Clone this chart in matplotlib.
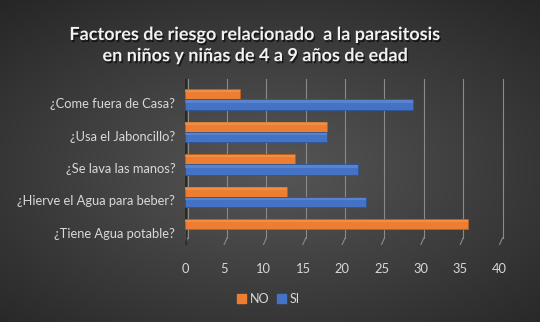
import numpy as np
import matplotlib.pyplot as plt
import matplotlib.patheffects as pe
from matplotlib.patches import Patch

# data
preguntas = ["¿Tiene Agua potable?", "¿Hierve el Agua para beber?",
             "¿Se lava las manos?", "¿Usa el Jaboncillo?", "¿Come fuera de Casa?"]
no_vals = [36, 13, 14, 18, 7]
si_vals = [0, 23, 22, 18, 29]
ticks = [0, 5, 10, 15, 20, 25, 30, 35, 40]

orange = "#ED7D31"
blue = "#4472C4"
txt = "#D9D9D9"
plt.rcParams["font.family"] = ["Lato", "DejaVu Sans"]

fig = plt.figure(figsize=(5.4, 3.22), dpi=100)

# radial gradient background, lighter in the middle
bg = fig.add_axes([0, 0, 1, 1])
yy, xx = np.mgrid[-1:1:322j, -1:1:540j]
r = np.sqrt((xx * 0.85) ** 2 + (yy * 0.9 - 0.05) ** 2)
g = np.clip(0.34 - 0.15 * r, 0.15, 0.34)
bg.imshow(np.dstack([g, g, g]), aspect="auto", extent=[0, 1, 0, 1])
bg.set_axis_off()

ax = fig.add_axes([185 / 540, (322 - 245) / 322, 325 / 540, (245 - 79) / 322])
ax.patch.set_alpha(0)
ax.set_xlim(0, 41.3)
ax.set_ylim(-0.37, 4.74)

y = np.arange(len(preguntas))
h = 0.32

# slanted "3D" gridlines
for v in ticks:
    ax.plot([v + 0.35, v + 0.35], [-0.15, 4.74], color="#8a8a8a", lw=0.8, zorder=1)
    ax.plot([v - 0.05, v + 0.35], [-0.37, -0.15], color="#8a8a8a", lw=0.8, zorder=1)
ax.plot([0.1, 0.1], [-0.37, 4.74], color="#222222", lw=1.6, zorder=2, alpha=0.8)

ax.barh(y + 0.27, no_vals, height=h, color=orange, edgecolor="#C0601C", lw=0.6, zorder=3)
ax.barh(y - 0.05, si_vals, height=h, color=blue, edgecolor="#2F5597", lw=0.6, zorder=3)
# light top highlight for a bit of depth
ax.barh(y + 0.27 + h * 0.3, no_vals, height=h * 0.25, color="#F4A05E", lw=0, zorder=4, alpha=0.5)
ax.barh(y - 0.05 + h * 0.3, si_vals, height=h * 0.25, color="#6E95DB", lw=0, zorder=4, alpha=0.5)

ax.set_yticks(y)
ax.set_yticklabels(preguntas)
ax.set_xticks(ticks)
ax.tick_params(length=0, colors=txt, labelsize=9.3)
ax.tick_params(axis="y", pad=7)
ax.tick_params(axis="x", pad=13)
for s in ax.spines.values():
    s.set_visible(False)

title = "Factores de riesgo relacionado  a la parasitosis\nen niños y niñas de 4 a 9 años de edad"
fig.text(0.472, 0.86, title, ha="center", va="center", fontsize=13,
         fontweight="bold", color="#F2F2F2", linespacing=1.3,
         path_effects=[pe.withSimplePatchShadow(offset=(1, -1.5), shadow_rgbFace="#000000", alpha=0.6)])

handles = [Patch(color=orange, label="NO"), Patch(color=blue, label="SI")]
leg = fig.legend(handles=handles, loc="center", bbox_to_anchor=(0.497, 0.072), ncol=2,
                 frameon=False, fontsize=9, handlelength=0.7, handleheight=0.7,
                 handletextpad=0.3, columnspacing=0.6)
for t in leg.get_texts():
    t.set_color(txt)

fig.savefig("out.png", dpi=100)
